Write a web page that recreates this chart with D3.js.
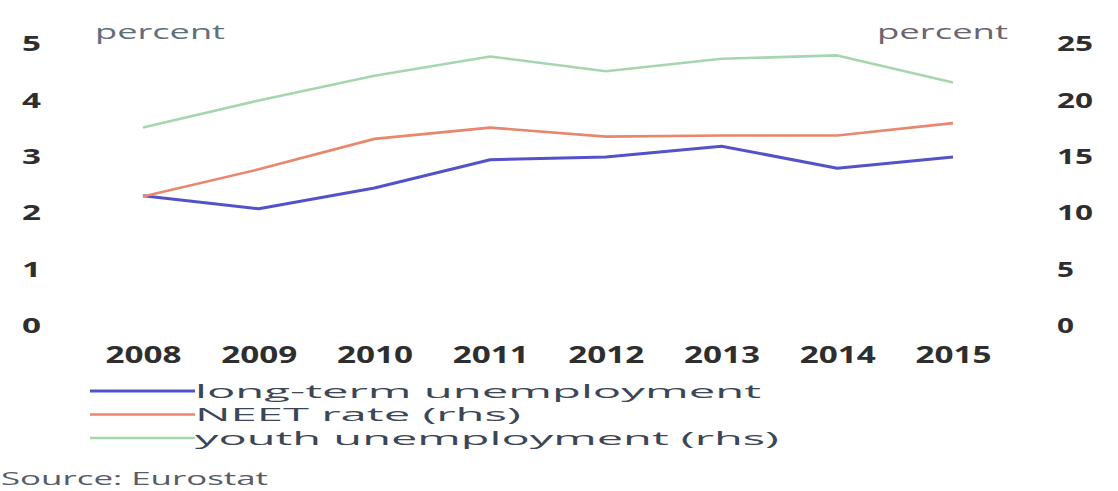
<!DOCTYPE html>
<html>
<head>
<meta charset="utf-8">
<script src="https://cdn.jsdelivr.net/npm/d3@7"></script>
<style>
  body { margin: 0; background: white; }
  text { font-family: "Open Sans", sans-serif; }
</style>
</head>
<body>
<script>
let width = 1118;
let height = 491;

let years = ["2008", "2009", "2010", "2011", "2012", "2013", "2014", "2015"];
let longTerm = [2.29, 2.06, 2.43, 2.93, 2.98, 3.17, 2.78, 2.98];
let neet = [11.4, 13.8, 16.5, 17.5, 16.7, 16.8, 16.8, 17.9];
let youth = [17.5, 19.9, 22.1, 23.8, 22.5, 23.6, 23.9, 21.5];
let leftTicks = [0, 1, 2, 3, 4, 5];
let rightTicks = [0, 5, 10, 15, 20, 25];
let seriesNames = ["long-term unemployment", "NEET rate (rhs)", "youth unemployment (rhs)"];

//scales

let xScale = d3.scalePoint()
    .domain(years)
    .range([143, 953]);

let yLeft = d3.scaleLinear()
    .domain([0, 5])
    .range([325, 43]);

let yRight = d3.scaleLinear()
    .domain([0, 25])
    .range([325, 43]);

//svg canvas

let svg = d3.select("body")
    .append("svg")
    .attr("width", width)
    .attr("height", height);

// text drawn stretched to the widths seen in the picture
function wideText(sel, w) {
    sel.attr("textLength", w).attr("lengthAdjust", "spacingAndGlyphs");
}

//axes

let leftAxis = svg.append("g")
    .attr("transform", "translate(44,0)")
    .call(d3.axisLeft(yLeft).tickValues(leftTicks).tickFormat(d3.format("d"))
        .tickSize(0).tickPadding(0));
leftAxis.select(".domain").remove();
leftAxis.selectAll("text")
    .attr("x", -22)
    .attr("dy", "0.35em")
    .attr("text-anchor", "start")
    .attr("font-size", "22px")
    .attr("font-weight", "bold")
    .attr("fill", "#2e2e2e")
    .call(wideText, 19);

let rightAxis = svg.append("g")
    .attr("transform", "translate(1057,0)")
    .call(d3.axisRight(yRight).tickValues(rightTicks).tickFormat(d3.format("d"))
        .tickSize(0).tickPadding(0));
rightAxis.select(".domain").remove();
rightAxis.selectAll("text")
    .attr("x", 0)
    .attr("dy", "0.35em")
    .attr("font-size", "22px")
    .attr("font-weight", "bold")
    .attr("fill", "#2e2e2e")
    .each(function(d) {
        d3.select(this).call(wideText, d >= 10 ? 36 : 17);
    });

let xAxis = svg.append("g")
    .attr("transform", "translate(0,355)")
    .call(d3.axisBottom(xScale).tickSize(0).tickPadding(0));
xAxis.select(".domain").remove();
xAxis.selectAll("text")
    .attr("y", 0)
    .attr("dy", "0.35em")
    .attr("font-size", "24px")
    .attr("font-weight", "bold")
    .attr("fill", "#2e2e2e")
    .call(wideText, 76);

//unit labels

svg.append("text")
    .attr("x", 95).attr("y", 32)
    .attr("dy", "0.35em")
    .attr("font-size", "20px")
    .attr("fill", "#5f6f7c")
    .text("percent")
    .call(wideText, 130);

svg.append("text")
    .attr("x", 877).attr("y", 32)
    .attr("dy", "0.35em")
    .attr("font-size", "20px")
    .attr("fill", "#6a6470")
    .text("percent")
    .call(wideText, 131);

//lines

let series = [
    { values: longTerm, y: yLeft, color: "#5352c8", w: 3 },
    { values: neet, y: yRight, color: "#e8866e", w: 2.6 },
    { values: youth, y: yRight, color: "#a6d6b0", w: 2.6 }
];

series.forEach(function(s) {
    let line = d3.line()
        .x(function(d, i) { return xScale(years[i]); })
        .y(function(d) { return s.y(d); });
    svg.append("path")
        .datum(s.values)
        .attr("d", line)
        .attr("fill", "none")
        .attr("stroke", s.color)
        .attr("stroke-width", s.w)
        .attr("stroke-linejoin", "round");
});

//legend

let legendY = d3.scalePoint()
    .domain(seriesNames)
    .range([391, 438]);
let legendWidths = [566, 326, 584];

let legend = svg.selectAll(".legend")
    .data(seriesNames)
    .enter()
    .append("g")
    .attr("transform", function(d) {
        return "translate(0," + legendY(d) + ")";
    });

legend.append("line")
    .attr("x1", 90)
    .attr("x2", 195)
    .attr("stroke", function(d, i) { return series[i].color; })
    .attr("stroke-width", function(d, i) { return series[i].w; });

legend.append("text")
    .attr("x", 195)
    .attr("dy", "0.35em")
    .attr("font-size", "19px")
    .attr("fill", "#3b4656")
    .text(function(d) { return d; })
    .each(function(d, i) {
        d3.select(this).call(wideText, legendWidths[i]);
    });

//source

svg.append("text")
    .attr("x", 1).attr("y", 479)
    .attr("dy", "0.35em")
    .attr("font-size", "18px")
    .attr("fill", "#555c66")
    .text("Source: Eurostat")
    .call(wideText, 267);
</script>
</body>
</html>
